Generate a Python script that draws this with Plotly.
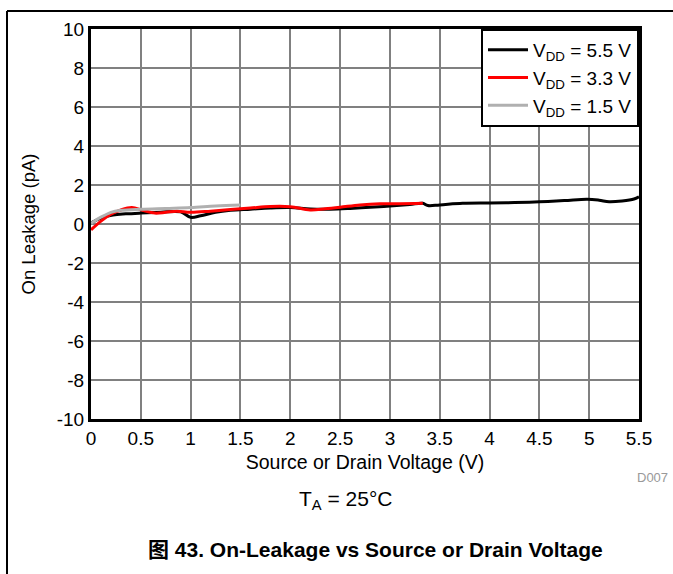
import plotly.graph_objects as go

# Data
v55_x = [0.0, 0.1, 0.22, 0.35, 0.5, 0.7, 0.9, 1.0, 1.1, 1.25, 1.4, 1.6, 1.8, 2.0, 2.2, 2.4, 2.6, 2.8, 3.0, 3.2, 3.33, 3.38, 3.5, 3.73, 4.0, 4.25, 4.5, 4.75, 4.98, 5.1, 5.2, 5.33, 5.45, 5.5]
v55_y = [0.05, 0.3, 0.46, 0.52, 0.56, 0.6, 0.62, 0.34, 0.42, 0.6, 0.7, 0.76, 0.82, 0.84, 0.77, 0.76, 0.8, 0.86, 0.92, 1.0, 1.06, 0.95, 0.98, 1.06, 1.08, 1.1, 1.14, 1.2, 1.27, 1.22, 1.14, 1.18, 1.28, 1.4]

v33_x = [0.0, 0.1, 0.2, 0.3, 0.41, 0.52, 0.64, 0.75, 0.86, 1.0, 1.2, 1.4, 1.6, 1.8, 2.0, 2.2, 2.35, 2.5, 2.7, 2.9, 3.1, 3.33]
v33_y = [-0.3, 0.15, 0.5, 0.72, 0.84, 0.7, 0.56, 0.6, 0.66, 0.6, 0.66, 0.74, 0.82, 0.9, 0.89, 0.72, 0.78, 0.86, 0.98, 1.04, 1.04, 1.06]

v15_x = [0.0, 0.1, 0.2, 0.3, 0.5, 0.75, 1.0, 1.25, 1.5]
v15_y = [0.03, 0.35, 0.6, 0.7, 0.76, 0.8, 0.84, 0.92, 0.97]

x_ticks = [0, 0.5, 1, 1.5, 2, 2.5, 3, 3.5, 4, 4.5, 5, 5.5]
x_tick_labels = ["0", "0.5", "1", "1.5", "2", "2.5", "3", "3.5", "4", "4.5", "5", "5.5"]
y_ticks = [-10, -8, -6, -4, -2, 0, 2, 4, 6, 8, 10]
y_tick_labels = ["-10", "-8", "-6", "-4", "-2", "0", "2", "4", "6", "8", "10"]

FONT = "Liberation Sans, Arial, Noto Sans CJK SC, sans-serif"

W, H = 673, 574
L, R, T, B = 91, 34, 29, 155
pw, ph = W - L - R, H - T - B

def px_x(p):
    return (p - L) / pw

def px_y(p):
    return (H - B - p) / ph

fig = go.Figure()
fig.add_trace(go.Scatter(x=v55_x, y=v55_y, mode="lines", name="V<sub>DD</sub> = 5.5 V",
                         line=dict(color="black", width=3, shape="spline")))
fig.add_trace(go.Scatter(x=v33_x, y=v33_y, mode="lines", name="V<sub>DD</sub> = 3.3 V",
                         line=dict(color="#ff0000", width=3, shape="spline")))
fig.add_trace(go.Scatter(x=v15_x, y=v15_y, mode="lines", name="V<sub>DD</sub> = 1.5 V",
                         line=dict(color="#b0b0b0", width=3, shape="spline")))

fig.update_layout(
    width=W, height=H,
    margin=dict(l=L, r=R, t=T, b=B, pad=0),
    paper_bgcolor="white", plot_bgcolor="white",
    font=dict(family=FONT, size=19, color="black"),
    legend=dict(x=1, xanchor="right", y=1, yanchor="top",
                bordercolor="black", borderwidth=2, bgcolor="white",
                font=dict(size=19), tracegroupgap=0, itemwidth=40),
    xaxis=dict(range=[0, 5.5], tickvals=x_ticks, ticktext=x_tick_labels,
               showgrid=True, gridcolor="#808080", gridwidth=1.5,
               showline=True, linecolor="black", linewidth=3, mirror=True,
               ticks="", zeroline=False, tickfont=dict(size=19), automargin=True,
               title=dict(text="Source or Drain Voltage (V)", standoff=8, font=dict(size=19.5))),
    yaxis=dict(range=[-10, 10], tickvals=y_ticks, ticktext=y_tick_labels,
               showgrid=True, gridcolor="#808080", gridwidth=1.5,
               showline=True, linecolor="black", linewidth=3, mirror=True,
               ticks="", zeroline=False, tickfont=dict(size=19),
               title=dict(text="On Leakage (pA)", standoff=17, font=dict(size=18.5))),
    shapes=[
        dict(type="line", xref="paper", yref="paper", x0=px_x(7), x1=px_x(680), y0=px_y(11), y1=px_y(11),
             line=dict(color="black", width=2)),
        dict(type="line", xref="paper", yref="paper", x0=px_x(7), x1=px_x(7), y0=px_y(11), y1=px_y(580),
             line=dict(color="black", width=2)),
    ],
    annotations=[
        dict(text="D007", xref="paper", yref="paper", x=px_x(670), y=px_y(478),
             xanchor="right", yanchor="middle", showarrow=False,
             font=dict(size=13, color="#999999")),
        dict(text="T<sub>A</sub> = 25°C", xref="paper", yref="paper", x=px_x(345), y=px_y(500),
             xanchor="center", yanchor="middle", showarrow=False, font=dict(size=21)),
        dict(text="<b>图 43. On-Leakage vs Source or Drain Voltage</b>", xref="paper", yref="paper",
             x=px_x(375), y=px_y(549), xanchor="center", yanchor="middle", showarrow=False,
             font=dict(size=21)),
    ],
)

fig.write_html("out.html", config={"displayModeBar": False},
               post_script="document.body.style.margin='0px';")
